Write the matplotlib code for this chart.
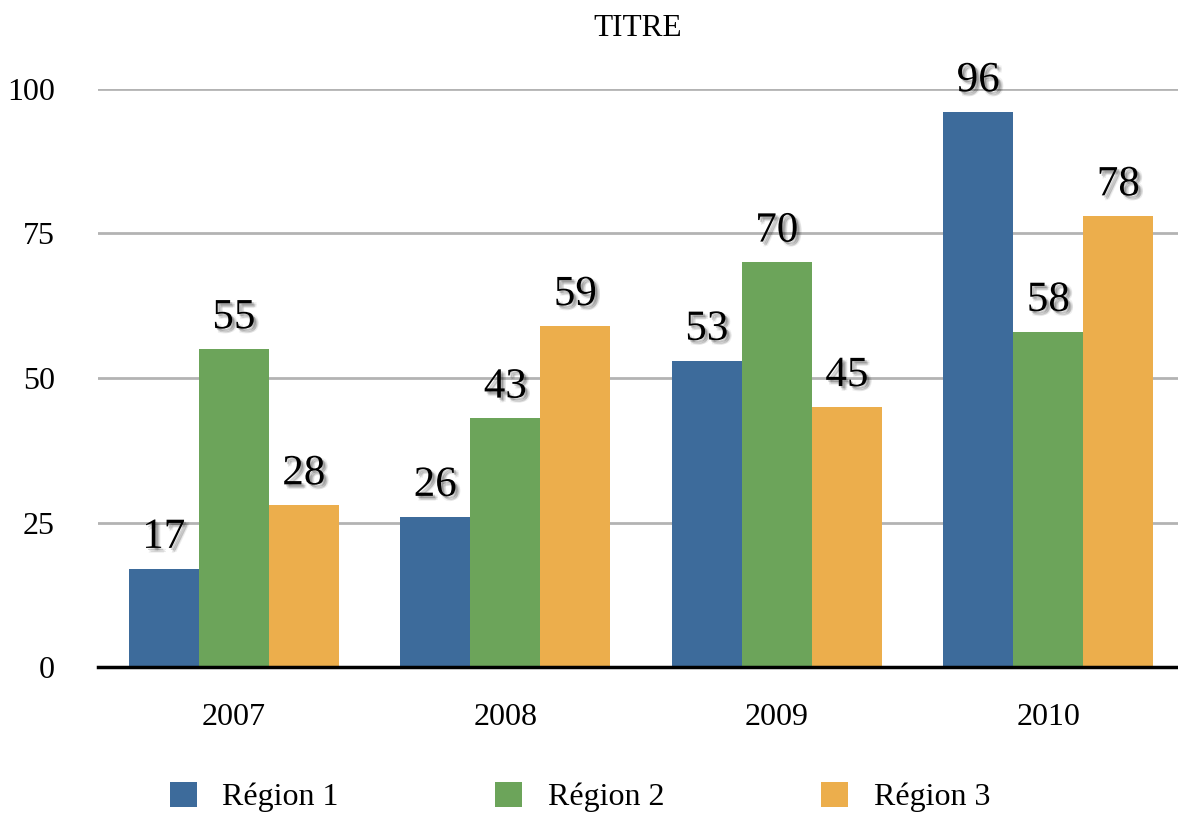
import matplotlib
matplotlib.use("Agg")
import matplotlib.pyplot as plt
import matplotlib.patheffects as pe
import numpy as np

years = ["2007", "2008", "2009", "2010"]
series_names = ["Région 1", "Région 2", "Région 3"]
region1 = [17, 26, 53, 96]
region2 = [55, 43, 70, 58]
region3 = [28, 59, 45, 78]
colors = ["#3D6B9B", "#6CA45A", "#ECAE4C"]
yticks = [0, 25, 50, 75, 100]
title = "TITRE"

plt.rcParams['font.family'] = ['Liberation Serif', 'DejaVu Serif']

W, H = 1178, 813
fig = plt.figure(figsize=(W / 100, H / 100), dpi=100)
ax = fig.add_axes([98 / W, 1 - 667 / H, 1 - 98 / W, (667 - 89) / H])

x = np.arange(len(years))
bw = 0.258
shadow = []
for dx, dy, a in [(1.5, -1.5, 0.18), (2.5, -2.5, 0.12), (3.5, -3.0, 0.07),
                  (2.0, -3.5, 0.06), (3.5, -1.5, 0.06)]:
    shadow.append(pe.SimplePatchShadow(offset=(dx, dy), shadow_rgbFace="black", alpha=a))
shadow.append(pe.Normal())

for i, (vals, name) in enumerate(zip([region1, region2, region3], series_names)):
    pos = x + (i - 1) * bw
    ax.bar(pos, vals, width=bw, color=colors[i], label=name, zorder=2)
    for xp, v in zip(pos, vals):
        t = ax.annotate(str(v), (xp, v), xytext=(0, 15), textcoords="offset points",
                        ha="center", va="baseline", fontsize=31, color="black",
                        annotation_clip=False, zorder=4)
        t.set_path_effects(shadow)

ax.set_xlim(-0.5, -0.5 + 1080 / 271.5)
ax.set_ylim(0, 100)
ax.set_yticks(yticks)
ax.set_xticks(x)
ax.set_xticklabels(years)
ax.tick_params(axis="both", length=0, labelsize=23)
ax.tick_params(axis="y", pad=31)
ax.tick_params(axis="x", pad=26)
ax.grid(axis="y", color="#B3B3B3", linewidth=2, zorder=0)
ax.set_axisbelow(True)
for s in ["top", "right", "left"]:
    ax.spines[s].set_visible(False)
ax.spines["bottom"].set_linewidth(2.5)
ax.spines["bottom"].set_color("black")
ax.spines["bottom"].set_zorder(3)

fig.text(638 / W, 1 - 28 / H, title, ha="center", va="center", fontsize=22.5)

handles, labels = ax.get_legend_handles_labels()
fig.legend(handles, labels, loc="center", bbox_to_anchor=(580 / W, 1 - 797 / H),
           ncol=3, frameon=False, fontsize=23, handlelength=0.85, handleheight=0.85,
           handletextpad=0.8, columnspacing=4.9, borderaxespad=0)

fig.savefig("out.png", dpi=100)
